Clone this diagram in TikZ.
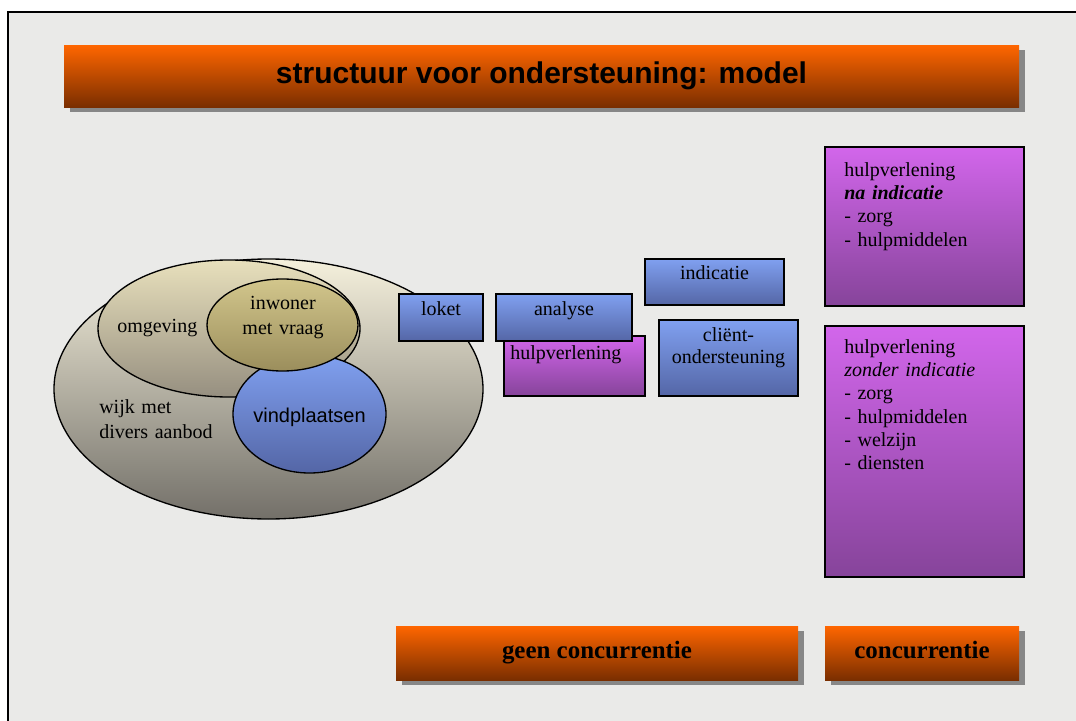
\documentclass[tikz,border=0pt]{standalone}
\usepackage{fontspec}
\setmainfont{Liberation Serif}
\setsansfont{Liberation Sans}
\usetikzlibrary{shapes.geometric,shadows}

\definecolor{bggray}{RGB}{234,234,232}
\definecolor{shadowgray}{RGB}{135,135,135}
\definecolor{orangetop}{RGB}{255,102,0}
\definecolor{orangebot}{RGB}{122,46,0}
\definecolor{bluetop}{RGB}{128,160,240}
\definecolor{bluebot}{RGB}{84,102,166}
\definecolor{purpletop}{RGB}{210,102,235}
\definecolor{purplebot}{RGB}{134,68,154}
\definecolor{wijktop}{RGB}{245,240,220}
\definecolor{wijkbot}{RGB}{115,112,105}
\definecolor{omgtop}{RGB}{232,224,188}
\definecolor{omgbot}{RGB}{150,143,128}
\definecolor{inwtop}{RGB}{210,198,140}
\definecolor{inwbot}{RGB}{155,142,92}

\tikzset{
  box/.style={rectangle, draw=black, line width=1pt, inner sep=0pt, outer sep=0pt},
  bluebox/.style={box, top color=bluetop, bottom color=bluebot},
  purplebox/.style={box, top color=purpletop, bottom color=purplebot},
  orangebar/.style={rectangle, inner sep=0pt, top color=orangetop, bottom color=orangebot,
    drop shadow={shadow xshift=4.5pt, shadow yshift=-3.75pt, fill=shadowgray, opacity=1}},
  blob/.style={ellipse, draw=black, line width=1pt, inner sep=0pt, outer sep=0pt},
  txt/.style={font=\fontsize{15}{17.5}\selectfont, inner sep=0pt},
}

\begin{document}
\begin{tikzpicture}[x=0.75pt, y=-0.75pt]
  \useasboundingbox (0,0) rectangle (1076,721);
  \fill[bggray] (8,12) rectangle (1076,721);
  \draw[line width=1.2pt] (8,721) -- (8,12) -- (1076,12);

  % title
  \node[orangebar, minimum width=716.25pt, minimum height=46.5pt] (title) at (541.5,76) {};
  \node[anchor=base, inner sep=0pt, font=\sffamily\bfseries\fontsize{22.5}{27}\selectfont] (titletext) at (541.5,83) {structuur voor ondersteuning: model};

  % ellipses
  \node[blob, top color=wijktop, bottom color=wijkbot, minimum width=321.75pt, minimum height=195pt] (wijk) at (268.5,389) {};
  \node[blob, top color=omgtop, bottom color=omgbot, minimum width=196.5pt, minimum height=102.75pt] (omgeving) at (229,328.5) {};
  \node[blob, top color=bluetop, bottom color=bluebot, minimum width=114.75pt, minimum height=88.5pt] (vindpl) at (309.5,414) {};
  \node[blob, top color=inwtop, bottom color=inwbot, minimum width=113.25pt, minimum height=69pt] (inwoner) at (282.5,325) {};

  \node[txt, anchor=base west] (omgtext) at (117,332) {omgeving};
  \node[txt, anchor=base, text width=90pt, align=center, font=\fontsize{15}{18.75}\selectfont] (inwtext) at (283,309) {inwoner\\met vraag};
  \node[txt, anchor=base west, text width=100pt, align=left, font=\fontsize{15}{18.75}\selectfont] (wijktext) at (99,413) {wijk met\\divers aanbod};
  \node[txt, anchor=base, font=\sffamily\fontsize{15}{18}\selectfont] (vindtext) at (309.5,422) {vindplaatsen};

  % middle boxes
  \node[bluebox, minimum width=63pt, minimum height=35.25pt] (loket) at (441,317.5) {};
  \node[purplebox, minimum width=105.75pt, minimum height=45pt] (hulp) at (574.5,366) {};
  \node[bluebox, minimum width=102pt, minimum height=35.25pt] (analyse) at (564,317.5) {};
  \node[bluebox, minimum width=104.25pt, minimum height=34.5pt] (indicatie) at (714.5,282) {};
  \node[bluebox, minimum width=104.25pt, minimum height=57pt] (client) at (728.5,358) {};

  \node[txt, anchor=base] (lokettext) at (441,315) {loket};
  \node[txt, anchor=base] (analysetext) at (564,315) {analyse};
  \node[txt, anchor=base west] (hulptext) at (510,359) {hulpverlening};
  \node[txt, anchor=base] (indtext) at (714.5,279) {indicatie};
  \node[txt, anchor=base, text width=100pt, align=center, font=\fontsize{15}{16.5}\selectfont] (clienttext) at (728.5,341) {cliënt-\\ondersteuning};

  % right boxes
  \node[purplebox, minimum width=149.25pt, minimum height=119.25pt] (naind) at (924.5,226.5) {};
  \node[purplebox, minimum width=149.25pt, minimum height=188.25pt] (zonderind) at (924.5,451.5) {};

  \node[txt, anchor=base west, text width=130pt, align=left] (naindtext) at (844,176) {hulpverlening\\\textbf{\textit{na indicatie}}\\- zorg\\- hulpmiddelen};
  \node[txt, anchor=base west, text width=130pt, align=left] (zondertext) at (844,353) {hulpverlening\\\textit{zonder indicatie}\\- zorg\\- hulpmiddelen\\- welzijn\\- diensten};

  % bottom bars
  \node[orangebar, minimum width=301.5pt, minimum height=40.5pt] (geen) at (597,653) {};
  \node[orangebar, minimum width=145.5pt, minimum height=40.5pt] (conc) at (922,653) {};
  \node[anchor=base, inner sep=0pt, font=\bfseries\fontsize{18.7}{22}\selectfont] (geentext) at (597,658) {geen concurrentie};
  \node[anchor=base, inner sep=0pt, font=\bfseries\fontsize{18.7}{22}\selectfont] (conctext) at (922,658) {concurrentie};
\end{tikzpicture}
\end{document}
